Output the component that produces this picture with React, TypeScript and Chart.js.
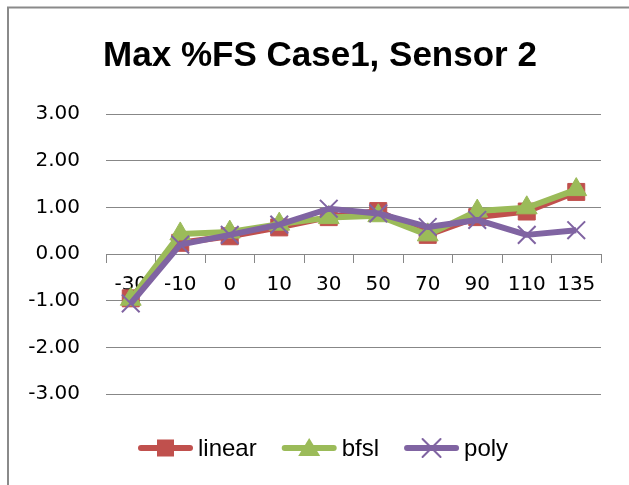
import React, { useEffect, useRef } from 'react';
import { Chart, registerables } from 'chart.js';

Chart.register(...registerables);

const TITLE = 'Max %FS Case1, Sensor 2';
const CATEGORIES = ['-30', '-10', '0', '10', '30', '50', '70', '90', '110', '135'];
const LINEAR = [-0.95, 0.24, 0.38, 0.57, 0.79, 0.92, 0.41, 0.79, 0.91, 1.33];
const BFSL = [-0.97, 0.43, 0.47, 0.64, 0.78, 0.82, 0.41, 0.92, 0.99, 1.38];
const POLY = [-1.06, 0.2, 0.41, 0.63, 0.97, 0.87, 0.58, 0.73, 0.41, 0.51];
const Y_MIN = -3;
const Y_MAX = 3;
const Y_STEP = 1;

const RED = '#C0504D';
const GREEN = '#9BBB59';
const PURPLE = '#8064A2';
const GRID = '#878787';
const TICK_FONT = "'DejaVu Sans'";

function drawMarker(ctx: CanvasRenderingContext2D, style: string, x: number, y: number, color: string) {
  ctx.save();
  ctx.fillStyle = color;
  ctx.strokeStyle = color;
  if (style === 'rect') {
    ctx.fillRect(x - 8.5, y - 8.5, 17, 17);
  } else if (style === 'triangle') {
    ctx.beginPath();
    ctx.moveTo(x, y - 10);
    ctx.lineTo(x + 11, y + 8);
    ctx.lineTo(x - 11, y + 8);
    ctx.closePath();
    ctx.fill();
  } else {
    ctx.lineWidth = 2;
    ctx.beginPath();
    ctx.moveTo(x - 9, y - 9);
    ctx.lineTo(x + 9, y + 9);
    ctx.moveTo(x + 9, y - 9);
    ctx.lineTo(x - 9, y + 9);
    ctx.stroke();
  }
  ctx.restore();
}

const decor = {
  id: 'decor',
  beforeDraw(chart: any) {
    const ctx = chart.ctx as CanvasRenderingContext2D;
    ctx.save();
    ctx.fillStyle = '#ffffff';
    ctx.fillRect(0, 0, chart.width, chart.height);
    ctx.restore();
  },
  afterDraw(chart: any) {
    const ctx = chart.ctx as CanvasRenderingContext2D;
    ctx.save();
    // frame
    ctx.strokeStyle = '#8a8a8a';
    ctx.lineWidth = 2;
    ctx.beginPath();
    ctx.moveTo(8, chart.height);
    ctx.lineTo(8, 7.5);
    ctx.lineTo(chart.width, 7.5);
    ctx.stroke();
    // title
    ctx.fillStyle = '#000000';
    ctx.font = "bold 35px 'Liberation Sans'";
    ctx.textAlign = 'center';
    ctx.textBaseline = 'alphabetic';
    ctx.fillText(TITLE, 320, 66);
    // legend
    ctx.font = "24px 'Liberation Sans'";
    ctx.textAlign = 'left';
    let x = 138;
    const lineY = 448;
    chart.data.datasets.forEach((ds: any) => {
      ctx.strokeStyle = ds.borderColor;
      ctx.lineWidth = 6;
      ctx.lineCap = 'round';
      ctx.beginPath();
      ctx.moveTo(x + 3, lineY);
      ctx.lineTo(x + 52, lineY);
      ctx.stroke();
      drawMarker(ctx, ds.pointStyle, x + 27.5, lineY, ds.borderColor);
      x += 60;
      ctx.fillStyle = '#000000';
      ctx.fillText(ds.label, x, 456);
      x += ctx.measureText(ds.label).width + 25;
    });
    ctx.restore();
  },
};

export default function App() {
  const ref = useRef<HTMLCanvasElement | null>(null);

  useEffect(() => {
    if (!ref.current) return;
    const chart = new Chart(ref.current, {
      type: 'line',
      data: {
        labels: CATEGORIES,
        datasets: [
          {
            label: 'linear',
            data: LINEAR,
            borderColor: RED,
            backgroundColor: RED,
            borderWidth: 6,
            pointStyle: 'rect',
            pointRadius: 12,
            pointBorderWidth: 1,
            pointBorderColor: RED,
            pointBackgroundColor: RED,
            borderJoinStyle: 'round',
            order: 3,
          },
          {
            label: 'bfsl',
            data: BFSL,
            borderColor: GREEN,
            backgroundColor: GREEN,
            borderWidth: 6,
            pointStyle: 'triangle',
            pointRadius: 12,
            pointBorderWidth: 1,
            pointBorderColor: GREEN,
            pointBackgroundColor: GREEN,
            borderJoinStyle: 'round',
            order: 2,
          },
          {
            label: 'poly',
            data: POLY,
            borderColor: PURPLE,
            backgroundColor: PURPLE,
            borderWidth: 6,
            pointStyle: 'crossRot',
            pointRadius: 12.5,
            pointBorderWidth: 2,
            pointBorderColor: PURPLE,
            pointBackgroundColor: PURPLE,
            borderJoinStyle: 'round',
            order: 1,
          },
        ],
      },
      options: {
        responsive: false,
        animation: false,
        devicePixelRatio: 1,
        layout: { padding: { top: 114, bottom: 91, left: 0, right: 28 } },
        plugins: {
          legend: { display: false },
          title: { display: false },
          tooltip: { enabled: false },
        },
        scales: {
          x: {
            type: 'category',
            position: { y: 0 } as any,
            offset: true,
            grid: {
              offset: true,
              drawOnChartArea: false,
              drawTicks: true,
              tickLength: 8,
              color: GRID,
              lineWidth: 1,
            },
            border: { display: true, color: GRID, width: 1 },
            ticks: {
              color: '#000000',
              font: { family: TICK_FONT, size: 20 },
              padding: 11,
              maxRotation: 0,
              autoSkip: false,
            },
          },
          y: {
            type: 'linear',
            min: Y_MIN,
            max: Y_MAX,
            grid: { drawTicks: false, color: GRID, lineWidth: 1 },
            border: { display: false },
            ticks: {
              stepSize: Y_STEP,
              color: '#000000',
              font: { family: TICK_FONT, size: 20 },
              padding: 26,
              callback: (v: any) => Number(v).toFixed(2),
            },
            afterFit: (s: any) => {
              s.width = 106;
            },
          },
        },
      },
      plugins: [decor],
    });
    return () => chart.destroy();
  }, []);

  return (
    <div style={{ position: 'absolute', left: 0, top: 0, width: 629, height: 485 }}>
      <canvas ref={ref} width={629} height={485} style={{ display: 'block' }} />
    </div>
  );
}
